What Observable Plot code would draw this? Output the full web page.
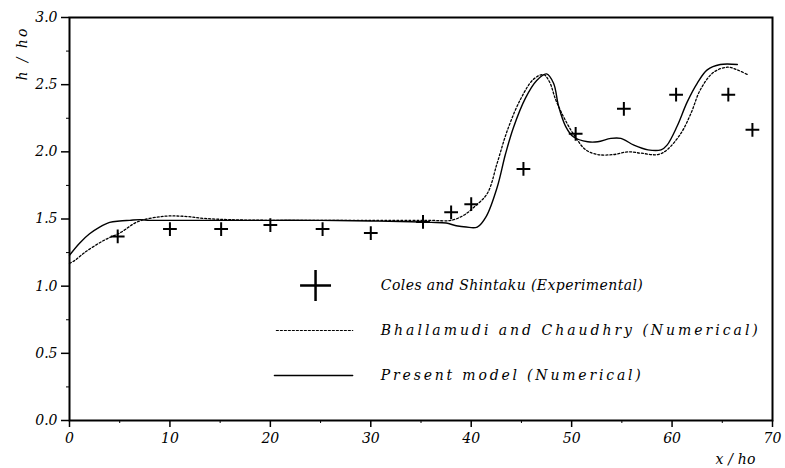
<!DOCTYPE html>
<html><head><meta charset="utf-8">
<script src="https://cdn.jsdelivr.net/npm/d3@7"></script>
<script src="https://cdn.jsdelivr.net/npm/@observablehq/plot@0.6"></script>
<style>body{margin:0;background:#fff}</style>
</head><body><div id="chart"></div>
<script>
// Coles and Shintaku (Experimental)
const expX = [4.8, 10.0, 15.1, 20.0, 25.2, 30.0, 35.2, 38.0, 40.0, 45.2, 50.4, 55.2, 60.4, 65.6, 68.0];
const expY = [1.37, 1.425, 1.425, 1.455, 1.425, 1.395, 1.478, 1.55, 1.61, 1.873, 2.134, 2.32, 2.425, 2.425, 2.164];
// Bhallamudi and Chaudhry (Numerical)
const bcX = [0, 0.5, 1.5, 3.4, 5.1, 6.8, 9.4, 11.4, 13.3, 16, 20, 25, 30, 34, 36, 38, 39.3, 40.3, 41.6, 42.6, 43.6, 44.9, 46.2, 47.2, 47.8, 48.4, 49.2, 50.2, 51.4, 52.6, 54.2, 55.6, 56.9, 58.6, 59.5, 60.9, 61.9, 62.8, 64.1, 65.5, 66.5, 67.5];
const bcY = [1.17, 1.19, 1.25, 1.34, 1.40, 1.48, 1.52, 1.52, 1.505, 1.495, 1.49, 1.49, 1.49, 1.49, 1.49, 1.49, 1.53, 1.59, 1.69, 1.92, 2.16, 2.39, 2.54, 2.575, 2.52, 2.39, 2.26, 2.13, 2.015, 1.98, 1.98, 2.0, 1.99, 1.98, 2.015, 2.14, 2.29, 2.46, 2.59, 2.63, 2.61, 2.575];
// Present model (Numerical)
const pmX = [0, 1, 2, 3, 4, 5, 6, 7, 8, 10, 15, 20, 25, 30, 34, 36, 37.5, 38.5, 39.5, 40.6, 41.5, 42.6, 43.4, 44.2, 45.4, 46.5, 47.5, 48.2, 48.7, 49.4, 50.2, 51.6, 52.6, 53.9, 54.9, 56.2, 57.6, 58.9, 59.5, 60.5, 61.5, 62.5, 63.5, 64.8, 66.5];
const pmY = [1.23, 1.32, 1.39, 1.44, 1.475, 1.485, 1.49, 1.495, 1.49, 1.49, 1.49, 1.49, 1.49, 1.485, 1.48, 1.475, 1.47, 1.45, 1.44, 1.44, 1.52, 1.74, 1.98, 2.18, 2.40, 2.53, 2.58, 2.51, 2.34, 2.19, 2.11, 2.075, 2.075, 2.10, 2.10, 2.05, 2.015, 2.015, 2.05, 2.19, 2.37, 2.51, 2.61, 2.65, 2.65];

const xTicks = [0, 10, 20, 30, 40, 50, 60, 70];
const xMinor = [5, 15, 25, 35, 45, 55, 65];
const yTicks = [0, 0.5, 1.0, 1.5, 2.0, 2.5, 3.0];
const yMinor = [0.25, 0.75, 1.25, 1.75, 2.25, 2.75];
const legendLabels = ["Coles and Shintaku (Experimental)", "Bhallamudi and Chaudhry (Numerical)", "Present model (Numerical)"];
const xLabel = "x / ho";
const yLabel = "h / ho";

const exp = expX.map((x, i) => ({x, y: expY[i]}));
const bc = bcX.map((x, i) => ({x, y: bcY[i]}));
const pm = pmX.map((x, i) => ({x, y: pmY[i]}));

// legend layout (data space)
const legX0 = 20.6, legX1 = 28.2, legTextX = 31.0, legCross = 24.5;
const legYs = [1.005, 0.67, 0.335];
// stretched text widths (px), matching the original's wide letter spacing
const textWidths = new Map([[legendLabels[0], 262], [legendLabels[1], 377], [legendLabels[2], 260], [xLabel, 40], [yLabel, 52]]);

const font = "DejaVu Serif";
const tf = {fontFamily: font, fontStyle: "italic", fill: "#000"};
const chart = Plot.plot({
  width: 785, height: 468,
  marginLeft: 69, marginRight: 13, marginTop: 17, marginBottom: 48,
  x: {domain: [0, 70]},
  y: {domain: [0, 3]},
  style: {fontFamily: font, fontStyle: "italic", fontSize: "14px", color: "#000", background: "#fff"},
  marks: [
    Plot.axisX({ticks: xTicks, tickSize: 7, tickPadding: 6, tickFormat: d3.format("d"), label: null, strokeWidth: 1.5, ...tf, fontSize: 14}),
    Plot.axisX({ticks: xMinor, tickSize: 3, tickFormat: () => "", label: null}),
    Plot.axisY({ticks: yTicks, tickSize: 8, tickPadding: 4, tickFormat: d3.format(".1f"), label: null, strokeWidth: 1.5, ...tf, fontSize: 14}),
    Plot.axisY({ticks: yMinor, tickSize: 3, tickFormat: () => "", label: null}),
    Plot.frame({stroke: "#000", strokeWidth: 2}),
    Plot.line(bc, {x: "x", y: "y", curve: "catmull-rom", stroke: "#000", strokeWidth: 1.3, strokeDasharray: "2,2"}),
    Plot.line(pm, {x: "x", y: "y", curve: "catmull-rom", stroke: "#000", strokeWidth: 1.4}),
    Plot.dot(exp, {x: "x", y: "y", symbol: "plus", r: 4.5, stroke: "#000", strokeWidth: 2}),
    // legend
    Plot.dot([legendLabels[0]], {x: () => legCross, y: () => legYs[0], symbol: "plus", r: 10, stroke: "#000", strokeWidth: 2.5}),
    Plot.line([[legX0, legYs[1]], [legX1, legYs[1]]], {stroke: "#000", strokeWidth: 1.2, strokeDasharray: "2,2"}),
    Plot.line([[legX0 - 0.2, legYs[2]], [legX1, legYs[2]]], {stroke: "#000", strokeWidth: 1.3}),
    Plot.text(legendLabels, {x: () => legTextX, y: (d, i) => legYs[i], textAnchor: "start", fontSize: 14, ...tf}),
    Plot.text([yLabel], {frameAnchor: "top-left", textAnchor: "middle", dx: -52, dy: 37, rotate: -90, fontSize: 14, ...tf}),
    Plot.text([xLabel], {frameAnchor: "bottom-right", textAnchor: "middle", dx: -37, dy: 43, fontSize: 14, ...tf})
  ]
});
d3.select(chart).selectAll("text").each(function () {
  const w = textWidths.get(this.textContent);
  if (w) { this.setAttribute("textLength", w); this.setAttribute("lengthAdjust", "spacing"); }
});
document.getElementById("chart").appendChild(chart);
</script>
</body></html>
